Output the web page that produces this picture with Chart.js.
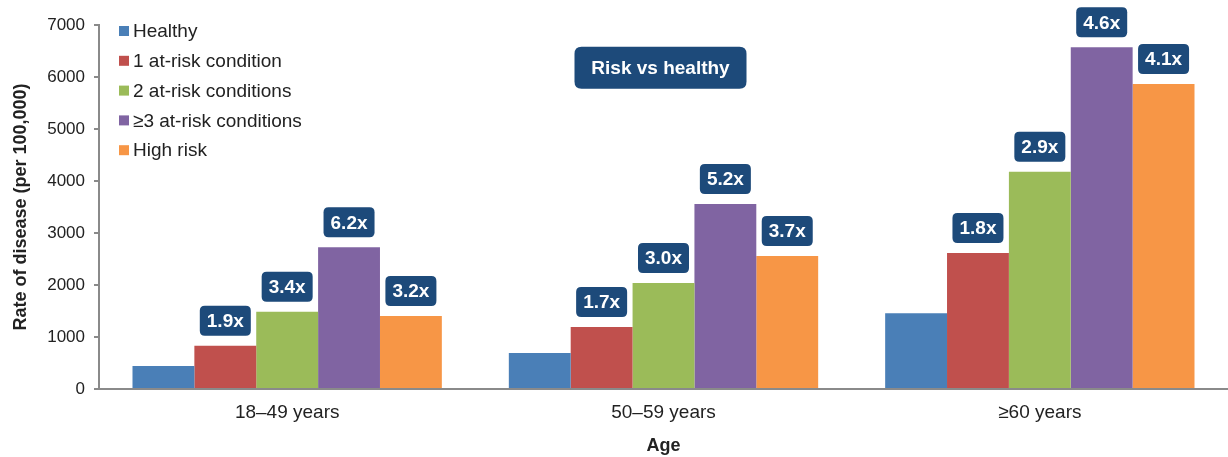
<!DOCTYPE html>
<html>
<head>
<meta charset="utf-8">
<script src="https://cdn.jsdelivr.net/npm/chart.js@4/dist/chart.umd.min.js"></script>
<style>
  html, body { margin: 0; padding: 0; background: #fff; }
  #wrap { width: 1228px; height: 457px; }
</style>
</head>
<body>
<div id="wrap"><canvas id="myChart"></canvas></div>
<script>
// data
const ageGroups = ["18\u201349 years", "50\u201359 years", "\u226560 years"];
const seriesNames = ["Healthy", "1 at-risk condition", "2 at-risk conditions", "\u22653 at-risk conditions", "High risk"];
const healthy = [440, 690, 1455];
const oneRisk = [830, 1190, 2615];
const twoRisk = [1487, 2040, 4180];
const threeRisk = [2725, 3560, 6570];
const highRisk = [1404, 2560, 5865];
// "risk vs healthy" labels, null = no label
const ratioHealthy = [null, null, null];
const ratioOne = ["1.9x", "1.7x", "1.8x"];
const ratioTwo = ["3.4x", "3.0x", "2.9x"];
const ratioThree = ["6.2x", "5.2x", "4.6x"];
const ratioHigh = ["3.2x", "3.7x", "4.1x"];
const yTicks = [0, 1000, 2000, 3000, 4000, 5000, 6000, 7000];

const colors = ["#4a7fb7", "#c0504d", "#9bbb59", "#8064a2", "#f79646"];
const boxColor = "#1d4a7a";
const fontName = "'Liberation Sans', Arial, sans-serif";

const values = [healthy, oneRisk, twoRisk, threeRisk, highRisk];
const ratios = [ratioHealthy, ratioOne, ratioTwo, ratioThree, ratioHigh];

function roundBox(ctx, x, y, w, h, r) {
    ctx.beginPath();
    ctx.moveTo(x + r, y);
    ctx.lineTo(x + w - r, y);
    ctx.quadraticCurveTo(x + w, y, x + w, y + r);
    ctx.lineTo(x + w, y + h - r);
    ctx.quadraticCurveTo(x + w, y + h, x + w - r, y + h);
    ctx.lineTo(x + r, y + h);
    ctx.quadraticCurveTo(x, y + h, x, y + h - r);
    ctx.lineTo(x, y + r);
    ctx.quadraticCurveTo(x, y, x + r, y);
    ctx.closePath();
    ctx.fill();
}

const extras = {
    id: "extras",
    afterDatasetsDraw(chart) {
        const ctx = chart.ctx;
        ctx.save();

        // ratio boxes above the bars
        ctx.font = "bold 19px " + fontName;
        ctx.textAlign = "center";
        ctx.textBaseline = "middle";
        chart.data.datasets.forEach((ds, i) => {
            const meta = chart.getDatasetMeta(i);
            meta.data.forEach((bar, j) => {
                const txt = ratios[i][j];
                if (!txt) return;
                const w = 51, h = 30;
                const bottom = bar.y - 10;
                ctx.fillStyle = boxColor;
                roundBox(ctx, bar.x - w / 2, bottom - h, w, h, 5);
                ctx.fillStyle = "#fff";
                ctx.fillText(txt, bar.x, bottom - h / 2 + 1);
            });
        });

        // "Risk vs healthy" tag
        const xs = chart.scales.x, ys = chart.scales.y;
        const cx = xs.getPixelForValue(1) - 3, cy = ys.getPixelForValue(6180);
        ctx.fillStyle = boxColor;
        roundBox(ctx, cx - 86, cy - 21, 172, 42, 7);
        ctx.fillStyle = "#fff";
        ctx.font = "bold 19px " + fontName;
        ctx.fillText("Risk vs healthy", cx, cy + 1);

        // legend inside the plot
        ctx.font = "19px " + fontName;
        ctx.textAlign = "left";
        const lx = chart.chartArea.left + 20;
        let ly = chart.chartArea.top + 6;
        chart.data.datasets.forEach((ds) => {
            ctx.fillStyle = ds.backgroundColor;
            ctx.fillRect(lx, ly - 5, 10, 10);
            ctx.fillStyle = "#222";
            ctx.fillText(ds.label, lx + 14, ly + 1);
            ly += 29.8;
        });
        ctx.restore();
    }
};

const ctx = document.getElementById("myChart");
const chart = new Chart(ctx, {
    type: "bar",
    data: {
        labels: ageGroups,
        datasets: seriesNames.map((name, i) => ({
            label: name,
            data: values[i],
            backgroundColor: colors[i],
            borderWidth: 0
        }))
    },
    options: {
        responsive: true,
        maintainAspectRatio: false,
        animation: false,
        datasets: {
            bar: { categoryPercentage: 0.822, barPercentage: 1.0 }
        },
        layout: { padding: { top: 25, right: 0, left: 0, bottom: 0 } },
        plugins: {
            legend: { display: false },
            tooltip: { enabled: false }
        },
        scales: {
            x: {
                grid: { display: false, drawTicks: false },
                border: { display: true, color: "#8a8a8a", width: 2 },
                ticks: { color: "#222", font: { family: fontName, size: 19 }, padding: 12 },
                title: {
                    display: true, text: "Age", color: "#222",
                    font: { family: fontName, size: 18, weight: "bold" },
                    padding: { top: 14, bottom: 0 }
                },
                afterFit: (s) => { s.height = 68; }
            },
            y: {
                min: 0,
                max: 7000,
                afterBuildTicks: (s) => { s.ticks = yTicks.map(v => ({ value: v })); },
                grid: { display: true, drawOnChartArea: false, drawTicks: true, tickLength: 5, color: "#8a8a8a", lineWidth: 2 },
                border: { display: true, color: "#8a8a8a", width: 2 },
                ticks: {
                    color: "#222", font: { family: fontName, size: 17 }, padding: 9,
                    callback: (v) => String(v)
                },
                title: {
                    display: true, text: "Rate of disease (per 100,000)", color: "#222",
                    font: { family: fontName, size: 18, weight: "bold" },
                    padding: { top: 10, bottom: 6 }
                },
                afterFit: (s) => { s.width = 99; }
            }
        }
    },
    plugins: [extras]
});
</script>
</body>
</html>
